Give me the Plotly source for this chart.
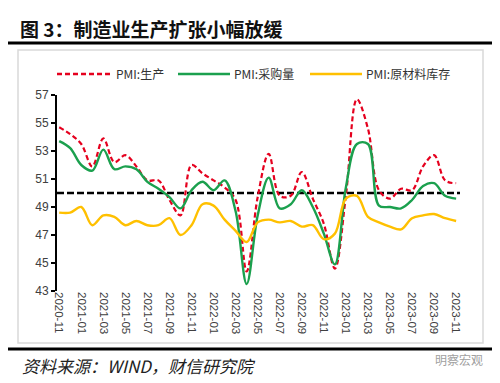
import plotly.graph_objects as go

months = ["2020-11","2020-12","2021-01","2021-02","2021-03","2021-04","2021-05","2021-06",
          "2021-07","2021-08","2021-09","2021-10","2021-11","2021-12","2022-01","2022-02",
          "2022-03","2022-04","2022-05","2022-06","2022-07","2022-08","2022-09","2022-10",
          "2022-11","2022-12","2023-01","2023-02","2023-03","2023-04","2023-05","2023-06",
          "2023-07","2023-08","2023-09","2023-10","2023-11"]

pmi_production = [54.7, 54.2, 53.5, 51.9, 53.9, 52.2, 52.7, 51.9, 50.9, 50.9, 49.5, 48.4,
                  52.0, 51.4, 50.9, 50.4, 49.5, 44.4, 49.7, 52.8, 49.8, 49.8, 51.5, 49.6,
                  47.8, 44.6, 49.8, 56.7, 54.6, 50.2, 49.6, 50.3, 50.2, 51.9, 52.7, 50.9, 50.7]

pmi_purchase = [53.7, 53.2, 52.0, 51.6, 53.1, 51.7, 51.9, 51.7, 50.8, 50.3, 49.7, 48.9,
                50.2, 50.8, 50.2, 50.9, 48.7, 43.5, 48.4, 51.1, 48.9, 49.2, 50.2, 49.0,
                47.1, 44.9, 50.4, 53.5, 53.5, 49.1, 49.0, 48.9, 49.5, 50.5, 50.7, 49.8, 49.6]

pmi_inventory = [48.6, 48.6, 49.0, 47.7, 48.4, 48.3, 47.7, 48.0, 47.7, 47.7, 48.2, 47.0,
                 47.7, 49.2, 49.1, 48.1, 47.3, 46.5, 47.9, 48.1, 47.9, 48.0, 47.6, 47.7,
                 46.7, 47.1, 49.6, 49.8, 48.3, 47.9, 47.6, 47.4, 48.2, 48.4, 48.5, 48.2, 48.0]

series_names = ["PMI:生产", "PMI:采购量", "PMI:原材料库存"]
tick_labels = months[::2]
threshold = 50

# page body adds an 8px offset; figure is sized so it fills the window exactly
OFF = 8
W, H = 500 - OFF, 383 - OFF
L, R, T, B = 57 - OFF, 40, 95 - OFF, 92
PW, PH = W - L - R, H - T - B

def px(x):
    return (x - OFF - L) / PW

def py(y):
    return (H - B - (y - OFF)) / PH

colors = ["#E5001E", "#1BA04E", "#FFC000"]
styles = [dict(width=2.2, dash="5px,3px"), dict(width=2.4, dash="solid"), dict(width=2.4, dash="solid")]
values = [pmi_production, pmi_purchase, pmi_inventory]

fig = go.Figure()
for name, vals, c, st in zip(series_names, values, colors, styles):
    fig.add_trace(go.Scatter(x=months, y=vals, name=name, mode="lines", showlegend=False,
                             line=dict(color=c, width=st["width"], dash=st["dash"],
                                       shape="spline", smoothing=1)))

shapes = [
    dict(type="line", xref="x domain", yref="y", x0=0, x1=1, y0=threshold, y1=threshold,
         line=dict(color="black", width=2.5, dash="7px,3px"), layer="below"),
    dict(type="rect", xref="paper", yref="paper", x0=px(18), x1=px(483), y0=py(50), y1=py(343),
         line=dict(color="#D9D9D9", width=1.5)),
    dict(type="line", xref="paper", yref="paper", x0=px(8), x1=px(496), y0=py(43), y1=py(43),
         line=dict(color="black", width=3)),
    dict(type="line", xref="paper", yref="paper", x0=px(8), x1=px(496), y0=py(349), y1=py(349),
         line=dict(color="black", width=3)),
]

annotations = [
    dict(text="<b>图 3：制造业生产扩张小幅放缓</b>", xref="paper", yref="paper", x=px(18), y=py(28),
         xanchor="left", yanchor="middle", showarrow=False,
         font=dict(family="Noto Sans CJK SC", size=19, color="#111111")),
    dict(text="资料来源：WIND，财信研究院", xref="paper", yref="paper", x=px(20), y=py(365),
         xanchor="left", yanchor="middle", showarrow=False,
         font=dict(family="Noto Sans CJK SC", size=17, color="#222222", style="italic")),
    dict(text="明察宏观", xref="paper", yref="paper", x=px(485), y=py(359),
         xanchor="right", yanchor="middle", showarrow=False,
         font=dict(family="Noto Sans CJK SC", size=12, color="#A0A0A0")),
]

# manual legend
leg_y = 74
leg_items = [(57, 110, 114), (178, 230, 232), (310, 362, 364)]
for (a, b, t), name, c, st in zip(leg_items, series_names, colors, styles):
    shapes.append(dict(type="line", xref="paper", yref="paper", x0=px(a), x1=px(b),
                       y0=py(leg_y), y1=py(leg_y),
                       line=dict(color=c, width=2.6, dash=st["dash"])))
    annotations.append(dict(text=name, xref="paper", yref="paper", x=px(t), y=py(leg_y),
                            xanchor="left", yanchor="middle", showarrow=False,
                            font=dict(family="Noto Sans CJK SC", size=12, color="#333333")))

fig.update_layout(
    width=W, height=H,
    margin=dict(l=L, r=R, t=T, b=B, autoexpand=False),
    paper_bgcolor="white", plot_bgcolor="white",
    font=dict(family="Liberation Sans, Arial", size=12, color="#404040"),
    showlegend=False,
    shapes=shapes,
    annotations=annotations,
    xaxis=dict(type="category", tickmode="array", tickvals=tick_labels, ticktext=tick_labels,
               tickangle=90, showline=False, showgrid=False, zeroline=False, ticks="",
               range=[-0.2, 36.35], tickfont=dict(size=11.5, color="#404040")),
    yaxis=dict(range=[43, 57], dtick=2, tick0=43, showline=True, linecolor="black", linewidth=2,
               ticks="outside", ticklen=4, tickwidth=1.5, tickcolor="black",
               showgrid=False, zeroline=False, tickfont=dict(size=12, color="#404040")),
)

fig.write_html("out.html")
